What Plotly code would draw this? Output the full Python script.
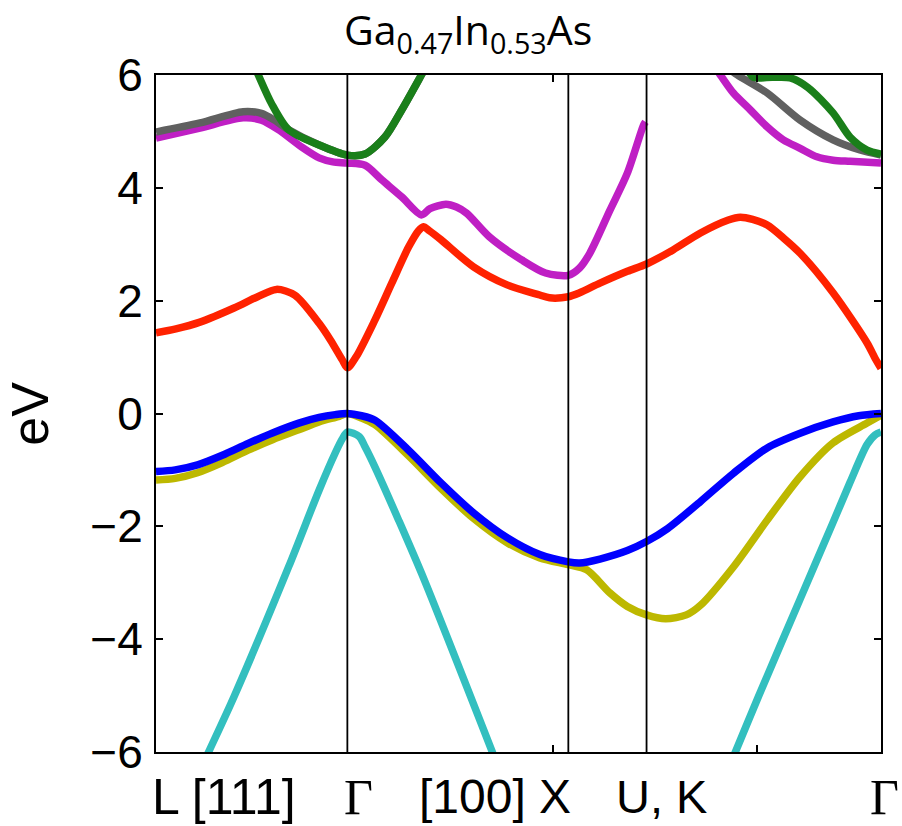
import plotly.graph_objects as go

# High-symmetry points along the k-path (path length units)
sym_points = [0.0, 0.866, 1.866, 2.220, 3.281]
minor_ticks = [1.795, 2.721]
path_labels = ["L [111]", "\u0393", "[100] X", "U, K", "\u0393"]
label_pos = [0.094, 0.279, 0.468, 0.697, 1.005]  # paper x of the labels
label_size = [50, 50, 48, 47, 50]
label_serif = [False, True, False, False, True]

y_ticks = [-6, -4, -2, 0, 2, 4, 6]
y_ticktext = ["\u22126", "\u22124", "\u22122", "0", "2", "4", "6"]

# Band energies (eV) along the path; None breaks a curve that leaves the window
so_k = [0.203, 0.238, 0.353, 0.600, 0.738, 0.811, 0.843, 0.866, 0.920, 0.946, 0.991, 1.098, 1.214, 1.552,
        None, 2.590, 2.622, 2.726, 2.915, 3.064, 3.141, 3.218, 3.254, 3.281]
so_e = [-6.3, -6.0, -5.02, -2.72, -1.36, -0.70, -0.45, -0.33, -0.41, -0.59, -0.95, -1.89, -2.95, -6.3,
        None, -6.3, -6.0, -5.02, -3.29, -1.93, -1.22, -0.55, -0.38, -0.33]

lh_k = [0, 0.087, 0.188, 0.30, 0.417, 0.53, 0.646, 0.738, 0.829, 0.866, 0.93, 0.991, 1.143, 1.290, 1.437,
        1.589, 1.737, 1.866, 1.949, 2.054, 2.133, 2.220, 2.306, 2.40, 2.464, 2.613, 2.766, 2.915, 3.064,
        3.218, 3.281]
lh_e = [-1.18, -1.15, -1.05, -0.87, -0.65, -0.46, -0.29, -0.15, -0.05, 0, -0.08, -0.2, -0.75, -1.33, -1.86,
        -2.29, -2.56, -2.68, -2.77, -3.18, -3.42, -3.57, -3.64, -3.57, -3.40, -2.72, -1.89, -1.12, -0.52,
        -0.17, -0.03]

hh_k = [0, 0.087, 0.188, 0.30, 0.417, 0.53, 0.646, 0.738, 0.811, 0.866, 0.93, 0.991, 1.143, 1.290, 1.437,
        1.589, 1.737, 1.866, 1.917, 2.009, 2.133, 2.220, 2.315, 2.464, 2.613, 2.766, 2.915, 3.064, 3.18, 3.281]
hh_e = [-1.03, -1.0, -0.91, -0.74, -0.53, -0.34, -0.17, -0.07, -0.02, 0, -0.04, -0.12, -0.65, -1.23, -1.76,
        -2.2, -2.5, -2.63, -2.65, -2.58, -2.43, -2.27, -2.04, -1.56, -1.06, -0.61, -0.35, -0.15, -0.04, 0]

c1_k = [0, 0.09, 0.199, 0.353, 0.46, 0.545, 0.628, 0.738, 0.79, 0.843, 0.866, 0.905, 0.991, 1.067, 1.143,
        1.188, 1.210, 1.237, 1.29, 1.437, 1.589, 1.737, 1.781, 1.866, 1.917, 2.009, 2.133, 2.220, 2.34,
        2.464, 2.59, 2.644, 2.70, 2.766, 2.84, 2.915, 3.064, 3.218, 3.254, 3.281]
c1_e = [1.43, 1.5, 1.62, 1.87, 2.07, 2.2, 2.1, 1.6, 1.3, 0.95, 0.81, 1.0, 1.66, 2.31, 2.95,
        3.24, 3.31, 3.24, 3.08, 2.6, 2.28, 2.1, 2.05, 2.07, 2.14, 2.31, 2.52, 2.65, 2.9,
        3.2, 3.43, 3.48, 3.44, 3.34, 3.11, 2.84, 2.14, 1.25, 0.98, 0.8]

c2_k = [0, 0.199, 0.394, 0.477, 0.554, 0.66, 0.738, 0.8, 0.866, 0.946, 1.022, 1.112, 1.201, 1.24, 1.312,
        1.36, 1.406, 1.509, 1.656, 1.763, 1.866, 1.917, 1.963, 2.054, 2.133, 2.206, 2.215,
        None, 2.50, 2.554, 2.613, 2.690, 2.766, 2.839, 2.915, 2.991, 3.064, 3.141, 3.281]
c2_e = [4.88, 5.06, 5.24, 5.2, 5.03, 4.72, 4.53, 4.46, 4.44, 4.4, 4.14, 3.84, 3.52, 3.63, 3.71,
        3.66, 3.55, 3.13, 2.72, 2.49, 2.45, 2.58, 2.84, 3.6, 4.26, 5.11, 5.17,
        None, 6.3, 6.0, 5.68, 5.38, 5.08, 4.85, 4.7, 4.55, 4.49, 4.47, 4.44]

c3_k = [0, 0.199, 0.394, 0.477, 0.536, 0.600, 0.738, 0.866, 0.946, 1.036, 1.112, 1.201, 1.25,
        None, 2.58, 2.631, 2.766, 2.915, 3.064, 3.186, 3.281]
c3_e = [4.99, 5.15, 5.35, 5.32, 5.2, 5.03, 4.76, 4.58, 4.6, 4.9, 5.38, 6.0, 6.35,
        None, 6.15, 6.0, 5.68, 5.2, 4.85, 4.67, 4.58]

c4_k = [0.44, 0.463, 0.522, 0.600, 0.738, 0.866, 0.946, 1.036, 1.112, 1.201, 1.25,
        None, 2.67, 2.703, 2.79, 2.87, 2.95, 3.064, 3.141, 3.218, 3.281]
c4_e = [6.2, 6.0, 5.5, 5.03, 4.76, 4.58, 4.6, 4.9, 5.38, 6.0, 6.35,
        None, 6.15, 5.96, 5.96, 5.95, 5.78, 5.33, 4.9, 4.67, 4.6]

bands = [
    (so_k, so_e, "#33bfbf"),
    (lh_k, lh_e, "#bdb800"),
    (hh_k, hh_e, "#0000ff"),
    (c1_k, c1_e, "#ff2200"),
    (c2_k, c2_e, "#bf1fc4"),
    (c3_k, c3_e, "#606060"),
    (c4_k, c4_e, "#1a7f1a"),
]

fig = go.Figure()
for k, e, color in bands:
    fig.add_trace(go.Scatter(
        x=k, y=e, mode="lines",
        line=dict(color=color, width=7.5, shape="spline", smoothing=0.8),
        connectgaps=False, showlegend=False, hoverinfo="skip",
    ))

# Vertical separators at the interior high-symmetry points
for xv in sym_points[1:-1]:
    fig.add_shape(type="line", xref="x", yref="paper", x0=xv, x1=xv, y0=0, y1=1,
                  line=dict(color="black", width=1.8), layer="above")

sans = "Liberation Sans, Arial, sans-serif"
serif = "Liberation Serif, Times New Roman, serif"
tick_font = dict(family=sans, size=46, color="black")

fig.update_xaxes(range=[sym_points[0], sym_points[-1]], showline=True, linecolor="black", linewidth=2,
                 mirror="ticks", ticks="inside", ticklen=7, tickwidth=1.5, tickcolor="black",
                 tickvals=minor_ticks, showticklabels=False, showgrid=False, zeroline=False)
fig.update_yaxes(range=[-6, 6], showline=True, linecolor="black", linewidth=2,
                 mirror="ticks", ticks="inside", ticklen=7, tickwidth=1.5, tickcolor="black",
                 tickvals=y_ticks, ticktext=y_ticktext, tickfont=tick_font, ticklabelstandoff=2,
                 showgrid=False, zeroline=False)

annotations = []
for text, px, size, is_serif in zip(path_labels, label_pos, label_size, label_serif):
    annotations.append(dict(text=text, x=px, y=-0.066, xref="paper", yref="paper",
                            xanchor="center", yanchor="middle", showarrow=False,
                            font=dict(family=serif if is_serif else sans, size=size, color="black")))
annotations.append(dict(text="eV", x=-0.175, y=0.5, xref="paper", yref="paper", textangle=-90,
                        xanchor="center", yanchor="middle", showarrow=False,
                        font=dict(family=sans, size=52, color="black")))
annotations.append(dict(text="Ga<sub>0.47</sub>In<sub>0.53</sub>As", x=0.43, y=1.064,
                        xref="paper", yref="paper", xanchor="center", yanchor="middle",
                        showarrow=False,
                        font=dict(family="Open Sans, Noto Sans, sans-serif", size=41, color="black")))

fig.update_layout(
    width=902, height=826,
    margin=dict(l=156, r=21, t=75, b=74),
    paper_bgcolor="white", plot_bgcolor="white",
    annotations=annotations,
)

fig.write_html("out.html")
